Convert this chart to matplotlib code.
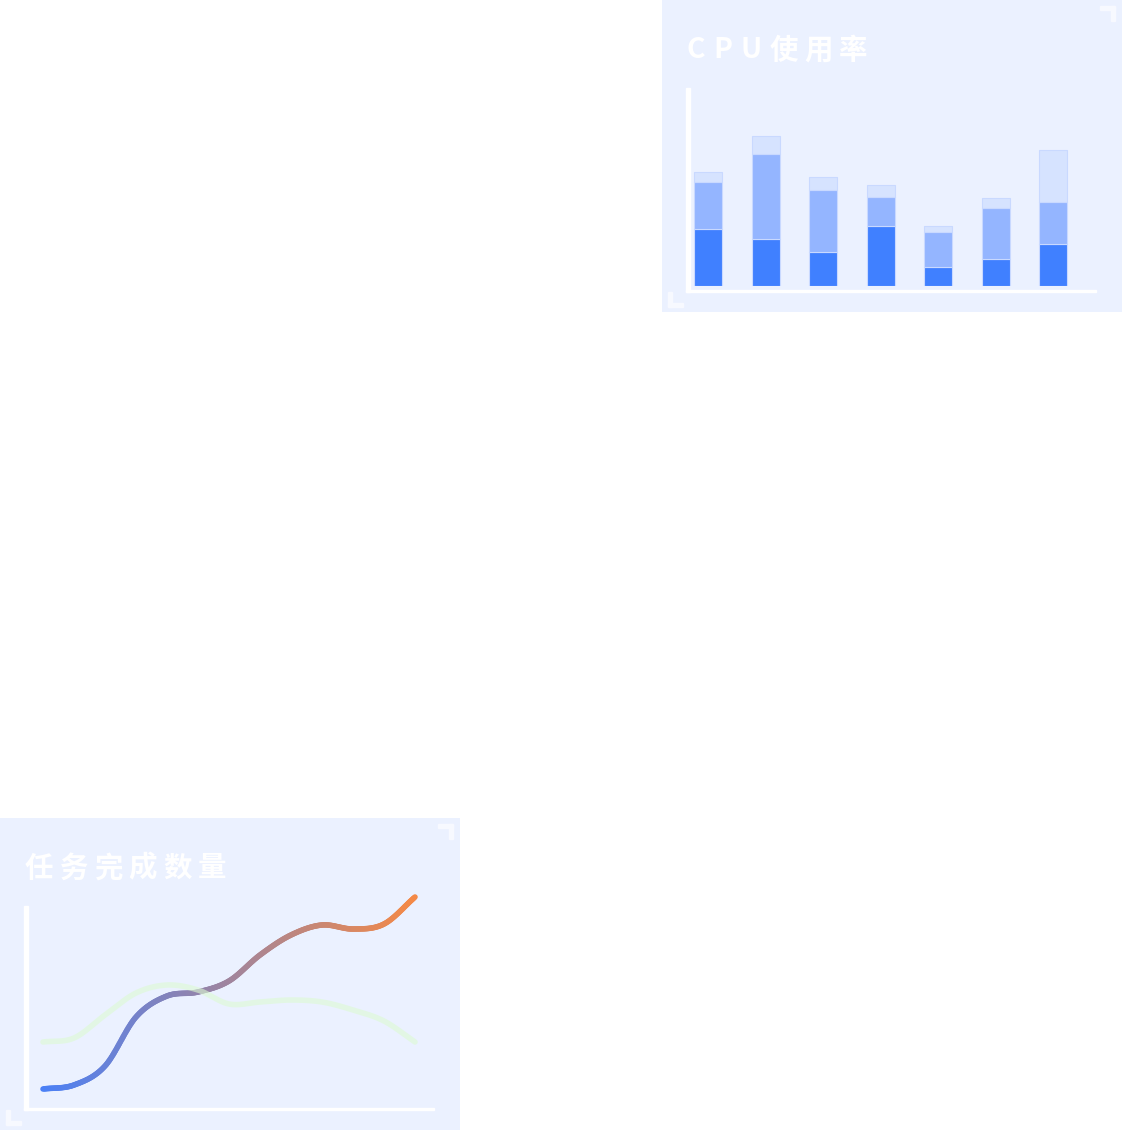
import numpy as np
import matplotlib
matplotlib.use("Agg")
import matplotlib.pyplot as plt
from matplotlib.patches import Rectangle
from matplotlib.collections import LineCollection

plt.rcParams['font.family'] = ['Noto Sans CJK SC', 'DejaVu Sans']

# CPU usage, three stacked parts per bar
cpu_base = [57, 47, 34, 60, 19, 27, 42]
cpu_mid = [47, 85, 62, 29, 35, 51, 42]
cpu_top = [10, 18, 13, 12, 6, 10, 52]

# tasks done vs planned
task_done = [20, 24, 43, 92, 113, 117, 128, 154, 174, 184, 180, 185, 212]
task_plan = [67, 71, 94, 116, 124, 119, 105, 107, 109, 107, 99, 88, 67]

W, H = 1122, 1130
BG = '#EBF1FF'
MARK = '#F7F9FF'
DARK = '#4080FF'
MID = '#94B5FF'
LIGHT = '#D6E3FF'
EDGE = '#C9D9FF'
LINE_START = (74 / 255, 128 / 255, 247 / 255)
LINE_END = (245 / 255, 137 / 255, 70 / 255)
GREEN = '#DCFBD2'

fig = plt.figure(figsize=(W / 100, H / 100), dpi=100)
fig.patch.set_facecolor('white')


def px_axes(x, y, w, h):
    '''Axes from a pixel rect measured from the top-left corner'''
    return fig.add_axes([x / W, 1 - (y + h) / H, w / W, h / H])


def spaced_text(ax, x, y, s, gap=6, size=20.5):
    '''Write a title with letter spacing'''
    r = fig.canvas.get_renderer()
    inv = ax.transData.inverted()
    for ch in s:
        t = ax.text(x, y, ch, fontsize=size, color='white', fontweight='bold',
                    ha='left', va='baseline')
        bb = t.get_window_extent(renderer=r)
        # latin letters sit a little further apart
        extra = 2 if ord(ch) < 0x3000 else 0
        x = inv.transform((bb.x1, 0))[0] + gap + extra


def panel(x0, y0, title):
    '''Light card with frame marks and title'''
    ax = px_axes(x0, y0, 460, 312)
    ax.set_xlim(0, 460)
    ax.set_ylim(312, 0)
    ax.axis('off')
    ax.add_patch(Rectangle((0, 0), 460, 312, color=BG, zorder=0))
    # white L axis
    ax.add_patch(Rectangle((24, 88), 4, 204, color='white'))
    ax.add_patch(Rectangle((24, 290), 410, 2, color='white'))
    # corner brackets
    ax.add_patch(Rectangle((438, 6), 15, 4, color=MARK))
    ax.add_patch(Rectangle((449, 6), 4, 15, color=MARK))
    ax.add_patch(Rectangle((6, 292), 4, 15, color=MARK))
    ax.add_patch(Rectangle((6, 303), 15, 4, color=MARK))
    spaced_text(ax, 25, 58.5, title)
    return ax


def smooth(ys, step):
    '''Catmull-Rom curve through the points, in pixel space'''
    p = np.column_stack([np.arange(len(ys)) * step, ys]).astype(float)
    p = np.vstack([2 * p[0] - p[1], p, 2 * p[-1] - p[-2]])
    t = np.linspace(0, 1, 24, endpoint=False)[:, None]
    out = []
    for i in range(1, len(p) - 2):
        p0, p1, p2, p3 = p[i - 1], p[i], p[i + 1], p[i + 2]
        out.append(0.5 * (2 * p1 + (-p0 + p2) * t
                          + (2 * p0 - 5 * p1 + 4 * p2 - p3) * t ** 2
                          + (-p0 + 3 * p1 - 3 * p2 + p3) * t ** 3))
    out.append(p[-2][None])
    out = np.vstack(out)
    out[:, 0] /= step
    return out


###########################################
# CPU panel

panel(662, 0, 'CPU使用率')
bx = px_axes(679.25, 86, 402.5, 200)
bx.set_xlim(-0.5, 6.5)
bx.set_ylim(0, 200)
bx.axis('off')
idx = np.arange(len(cpu_base))
bw = 28 / 57.5
bx.bar(idx, cpu_base, bw, color=DARK, edgecolor=EDGE, lw=0.8)
bx.bar(idx, cpu_mid, bw, bottom=cpu_base, color=MID, edgecolor=EDGE, lw=0.8)
bx.bar(idx, cpu_top, bw, bottom=np.add(cpu_base, cpu_mid), color=LIGHT, edgecolor=EDGE, lw=0.8)

###########################################
# task panel

panel(0, 818, '任务完成数量')
lx = px_axes(27.5, 889, 403, 220)
lx.set_xlim(-0.5, len(task_done) - 0.5)
lx.set_ylim(0, 220)
lx.axis('off')

step = 31
done = smooth(task_done, step)
segs = np.stack([done[:-1], done[1:]], axis=1)
frac = (segs[:, 0, 0] - done[0, 0]) / (done[-1, 0] - done[0, 0])
cols = [tuple((1 - f) * np.array(LINE_START) + f * np.array(LINE_END)) for f in frac]
lc = LineCollection(segs, colors=cols, linewidths=4.0, capstyle='round', joinstyle='round', zorder=2)
lc.set_clip_on(False)
lx.add_collection(lc)

plan = smooth(task_plan, step)
lx.plot(plan[:, 0], plan[:, 1], color=GREEN, alpha=0.6, lw=4.0,
        solid_capstyle='round', zorder=3, clip_on=False)

fig.savefig('out.png', dpi=100, facecolor='white')
